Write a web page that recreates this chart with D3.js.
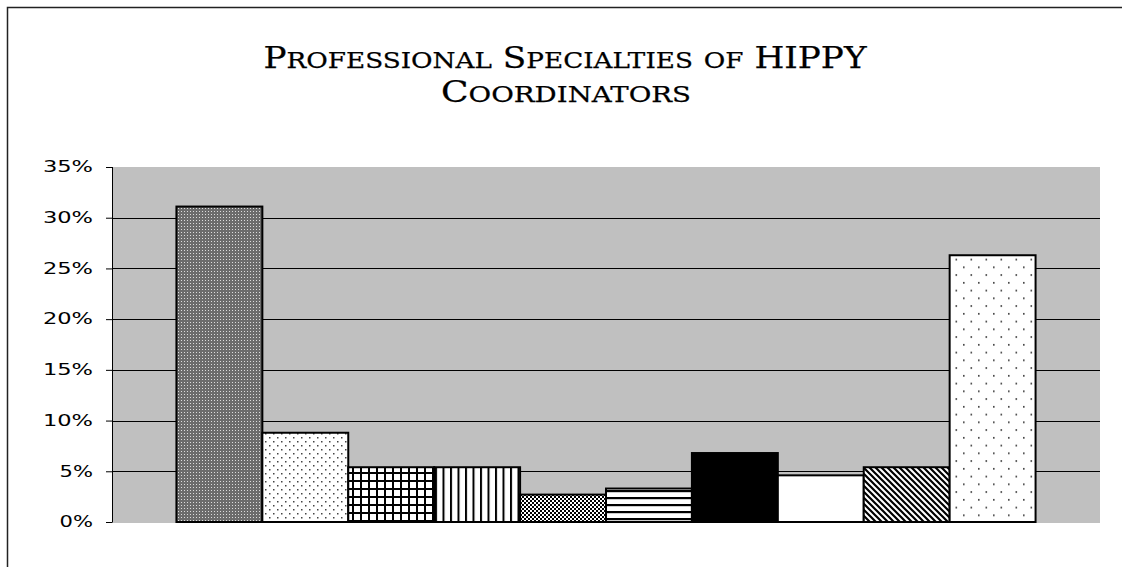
<!DOCTYPE html>
<html>
<head>
<meta charset="utf-8">
<script src="https://cdn.jsdelivr.net/npm/d3@7"></script>
<style>
	body { margin: 0; background: #fff; overflow: hidden; }
	svg { display: block; }
</style>
</head>
<body>
<svg id="chart" width="1122" height="567"></svg>
<script>
// chart data
var titleLines = ["Professional Specialties of HIPPY", "Coordinators"];
var specialties = ["s1", "s2", "s3", "s4", "s5", "s6", "s7", "s8", "s9", "s10"];
var shares = [0.311, 0.088, 0.054, 0.054, 0.027, 0.033, 0.068, 0.046, 0.054, 0.263];
var patterns = ["greyDots", "dots", "grid", "vlines", "checker", "hlines", "black", "white", "diag", "sparseDots"];
var yTicks = [0, 0.05, 0.10, 0.15, 0.20, 0.25, 0.30, 0.35];

var svg = d3.select("#chart");
var defs = svg.append("defs");

// fill patterns
function pattern(id, w, h) {
	return defs.append("pattern")
		.attr("id", id)
		.attr("patternUnits", "userSpaceOnUse")
		.attr("width", w)
		.attr("height", h);
}

var p = pattern("greyDots", 3, 3);
p.append("rect").attr("width", 3).attr("height", 3).attr("fill", "#6c6c6c");
p.append("rect").attr("x", 1).attr("y", 1).attr("width", 1).attr("height", 1).attr("fill", "#dcdcdc");

p = pattern("dots", 8, 8);
p.append("rect").attr("width", 8).attr("height", 8).attr("fill", "#fff");
p.append("rect").attr("x", 1).attr("y", 1).attr("width", 1.5).attr("height", 1.5).attr("fill", "#444");
p.append("rect").attr("x", 5).attr("y", 5).attr("width", 1.5).attr("height", 1.5).attr("fill", "#444");

p = pattern("grid", 8, 8);
p.append("rect").attr("width", 8).attr("height", 8).attr("fill", "#fff");
p.append("rect").attr("x", 0).attr("y", 0).attr("width", 2).attr("height", 8).attr("fill", "#000");
p.append("rect").attr("x", 0).attr("y", 0).attr("width", 8).attr("height", 2).attr("fill", "#000");

p = pattern("vlines", 7.5, 8);
p.append("rect").attr("width", 7.5).attr("height", 8).attr("fill", "#fff");
p.append("rect").attr("x", 0).attr("width", 2).attr("height", 8).attr("fill", "#000");

p = pattern("checker", 4, 4);
p.append("rect").attr("width", 4).attr("height", 4).attr("fill", "#000");
p.append("rect").attr("x", 0).attr("y", 0).attr("width", 2).attr("height", 2).attr("fill", "#fff");
p.append("rect").attr("x", 2).attr("y", 2).attr("width", 2).attr("height", 2).attr("fill", "#fff");

p = pattern("hlines", 8, 7);
p.append("rect").attr("width", 8).attr("height", 7).attr("fill", "#fff");
p.append("rect").attr("y", 0).attr("width", 8).attr("height", 2.2).attr("fill", "#000");

p = pattern("diag", 6, 6);
p.append("rect").attr("width", 6).attr("height", 6).attr("fill", "#fff");
p.append("path").attr("d", "M-1,-1L7,7M-1,5L1,7M5,-1L7,1")
	.attr("stroke", "#000").attr("stroke-width", 2.2);

p = pattern("sparseDots", 15, 15.5);
p.append("rect").attr("width", 15).attr("height", 15.5).attr("fill", "#fff");
p.append("rect").attr("x", 3).attr("y", 3).attr("width", 1.6).attr("height", 1.6).attr("fill", "#333");
p.append("rect").attr("x", 10.5).attr("y", 10.75).attr("width", 1.6).attr("height", 1.6).attr("fill", "#333");

function fillFor(name) {
	if (name == "black") return "#000";
	if (name == "white") return "#fff";
	return "url(#" + name + ")";
}

// outer frame (only top and left edges visible)
svg.append("path")
	.attr("d", "M7.5,567V7.5H1130")
	.attr("fill", "none")
	.attr("stroke", "#222")
	.attr("stroke-width", 1.5);

// title, drawn as small caps and stretched to the wide face of the original
var titleX = [565, 566], titleY = [68, 102], titleW = [603, 250];
titleLines.forEach(function(line, li) {
	var t = svg.append("text")
		.attr("x", titleX[li])
		.attr("y", titleY[li])
		.attr("text-anchor", "middle")
		.attr("font-family", "DejaVu Serif")
		.attr("fill", "#000")
		.attr("stroke", "#000")
		.attr("stroke-width", 0.25)
		.attr("textLength", titleW[li])
		.attr("lengthAdjust", "spacingAndGlyphs");
	for (var i = 0; i < line.length; i++) {
		var ch = line[i];
		var big = ch != ch.toLowerCase() || ch == " ";
		t.append("tspan")
			.attr("font-size", big ? 30 : 23)
			.text(ch.toUpperCase());
	}
});

// plot area
var x0 = 112, x1 = 1100, yTop = 167, yBottom = 522;

var y = d3.scaleLinear()
	.domain([0, 0.35])
	.range([yBottom, yTop]);

var x = d3.scaleBand()
	.domain(specialties)
	.range([x0, x1])
	.paddingInner(0)
	.paddingOuter(0.75);

svg.append("rect")
	.attr("x", x0)
	.attr("y", yTop)
	.attr("width", x1 - x0)
	.attr("height", yBottom - yTop + 1)
	.attr("fill", "#c0c0c0");

// gridlines
svg.append("g")
	.selectAll("line")
	.data(yTicks.filter(function(d) { return d > 0 && d < 0.35; }))
	.enter()
	.append("line")
	.attr("x1", x0)
	.attr("x2", x1)
	.attr("y1", function(d) { return Math.round(y(d)) + 0.5; })
	.attr("y2", function(d) { return Math.round(y(d)) + 0.5; })
	.attr("stroke", "#000")
	.attr("stroke-width", 1);

// y axis
var yAxis = svg.append("g")
	.attr("transform", "translate(" + x0 + ",0)")
	.call(d3.axisLeft(y)
		.tickValues(yTicks)
		.tickSize(6)
		.tickPadding(13)
		.tickFormat(d3.format(".0%")));

yAxis.select(".domain")
	.attr("d", "M0.5," + yTop + "V" + (yBottom + 0.5));
yAxis.selectAll(".tick line").attr("stroke", "#000");
yAxis.selectAll("text")
	.attr("font-family", "DejaVu Sans")
	.attr("font-size", 15)
	.attr("fill", "#000")
	.attr("textLength", function(d) { return d3.format(".0%")(d).length * 16.7; })
	.attr("lengthAdjust", "spacingAndGlyphs");

// bars
svg.append("g")
	.selectAll("rect")
	.data(specialties)
	.enter()
	.append("rect")
	.attr("x", function(d) { return x(d); })
	.attr("y", function(d, i) { return y(shares[i]); })
	.attr("width", x.bandwidth())
	.attr("height", function(d, i) { return yBottom - y(shares[i]); })
	.attr("fill", function(d, i) { return fillFor(patterns[i]); })
	.attr("stroke", "#000")
	.attr("stroke-width", 2);
</script>
</body>
</html>
